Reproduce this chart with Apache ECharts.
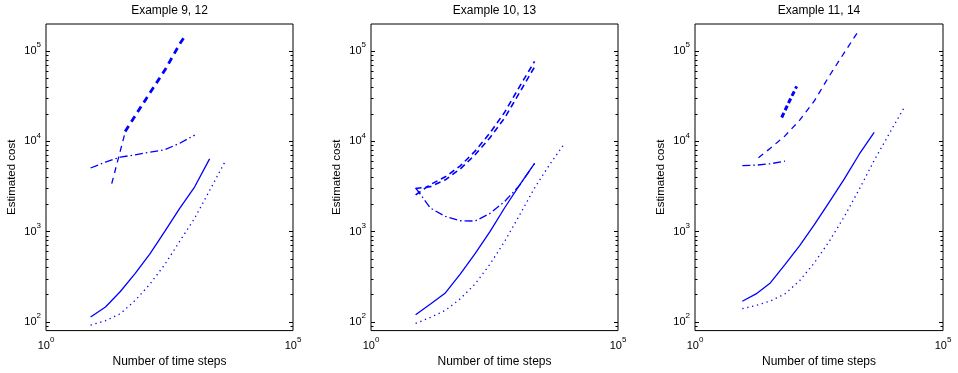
<!DOCTYPE html>
<html><head><meta charset="utf-8">
<script src="https://cdn.jsdelivr.net/npm/echarts@6/dist/echarts.min.js"></script>
<style>html,body{margin:0;padding:0;background:#fff}#c{width:958px;height:373px}</style>
</head><body><div id="c"></div>
<script>
// ---- text ----
const titles = ['Example 9, 12', 'Example 10, 13', 'Example 11, 14'];
const xLabel = 'Number of time steps';
const yLabel = 'Estimated cost';
// ---- ticks ----
const xTickValues = [1, 100000];
const yTickValues = [100, 1000, 10000, 100000];
const yMinorTickValues = [90, 200, 300, 400, 500, 600, 700, 800, 900,
  2000, 3000, 4000, 5000, 6000, 7000, 8000, 9000,
  20000, 30000, 40000, 50000, 60000, 70000, 80000, 90000];

// ---- panel 1 (Example 9, 12) ----
const p1X = [8, 16, 32, 64, 128, 256, 512, 1024, 2048, 4096];
const p1Solid = [113, 146, 217, 344, 569, 1012, 1820, 3140, 6400];
const p1Dotted = [92, 103, 123, 173, 263, 435, 785, 1412, 2850, 5800];
const p1DashDot = [5070, 5900, 6700, 7100, 7600, 8100, 9550, 11750];
const p1DashedLowX = [21.4, 40];
const p1DashedLowY = [3400, 12600];
const p1DashedX = [40, 127, 257, 516, 652];
const p1DashedY = [12900, 34500, 62100, 121600, 147600];

// ---- panel 2 (Example 10, 13) ----
const p2X = [8, 16, 32, 64, 128, 256, 512, 1024, 2048, 4096, 8192];
const p2Solid = [120, 158, 209, 338, 570, 998, 1850, 3300, 5700];
const p2Dotted = [96, 112, 134, 180, 263, 435, 785, 1535, 3050, 5500, 9400];
const p2DashedA = [3000, 3150, 3750, 4950, 7100, 11000, 18300, 35000, 67000];
const p2DashedB = [2550, 3330, 4050, 5350, 7800, 12400, 21200, 40800, 77000];
const p2DashDot = [3060, 1820, 1476, 1320, 1310, 1590, 2165, 3280, 5700];

// ---- panel 3 (Example 11, 14) ----
const p3X = [9, 17, 33, 65, 129, 257, 513, 1025, 2049, 4097, 8193, 16385];
const p3Solid = [169, 204, 270, 430, 700, 1200, 2140, 3840, 7210, 12600];
const p3Dotted = [140, 152, 170, 204, 286, 454, 785, 1470, 2950, 6150, 12100, 23600];
const p3DashDot = [5400, 5450, 5650, 6050];
const p3DashedX = [19, 33, 65, 129, 257, 513, 1025, 2049];
const p3Dashed = [6600, 8380, 11500, 17200, 28300, 53400, 96400, 173000];
const p3ThickX = [56, 79, 112];
const p3Thick = [18400, 27500, 40700];

function pairs(xs, ys) { return ys.map((y, i) => [xs[i], y]); }

const BLUE = '#0000ff';
const FONT = 'Liberation Sans, Arial, Helvetica, sans-serif';
const gridLeft = [46, 371, 695];
const gridWidth = [247, 247, 248];
const gridTop = 24, gridHeight = 309;

const supRich = {
  b: { fontSize: 11, lineHeight: 20, verticalAlign: 'middle', fontFamily: FONT, color: '#000' },
  s: { fontSize: 8, lineHeight: 8, verticalAlign: 'top', fontFamily: FONT, color: '#000' }
};
function powLabel(v) {
  const e = Math.round(Math.log10(v));
  return '{b|10}{s|' + e + '}';
}

const grids = [], xAxes = [], yAxes = [], titleArr = [], series = [];
for (let i = 0; i < 3; i++) {
  grids.push({ left: gridLeft[i], top: gridTop, width: gridWidth[i], height: gridHeight,
    show: true, borderColor: '#000', borderWidth: 1, backgroundColor: '#fff' });
  titleArr.push({ text: titles[i], left: gridLeft[i] + gridWidth[i] / 2, top: 5, padding: 0,
    textAlign: 'center',
    textStyle: { fontSize: 12, fontWeight: 'normal', color: '#000', fontFamily: FONT } });
  xAxes.push({ type: 'log', logBase: 10, gridIndex: i, min: 1, max: 100000,
    name: xLabel, nameLocation: 'middle', nameGap: 22,
    nameTextStyle: { fontSize: 12, color: '#000', fontFamily: FONT },
    axisLine: { show: false }, splitLine: { show: false },
    axisTick: { show: false },
    axisLabel: { customValues: xTickValues, formatter: powLabel, rich: supRich, margin: 5, showMinLabel: true, showMaxLabel: true } });
  const base = { type: 'log', logBase: 10, gridIndex: i, min: 80, max: 200000,
    axisLine: { show: false }, splitLine: { show: false }, minorTick: { show: false } };
  yAxes.push(Object.assign({}, base, { position: 'left',
    name: yLabel, nameLocation: 'middle', nameGap: 28, nameRotate: 90,
    nameTextStyle: { fontSize: 11.5, color: '#000', fontFamily: FONT },
    axisTick: { show: true, inside: true, length: 4, customValues: yTickValues, lineStyle: { color: '#000', width: 1 } },
    axisLabel: { customValues: yTickValues, formatter: powLabel, rich: supRich, margin: 5 } }));
  yAxes.push(Object.assign({}, base, { position: 'left',
    axisTick: { show: true, inside: true, length: 2.5, customValues: yMinorTickValues, lineStyle: { color: '#000', width: 1 } },
    axisLabel: { show: false } }));
  yAxes.push(Object.assign({}, base, { position: 'right',
    axisTick: { show: true, inside: true, length: 4, customValues: yTickValues, lineStyle: { color: '#000', width: 1 } },
    axisLabel: { show: false } }));
  yAxes.push(Object.assign({}, base, { position: 'right',
    axisTick: { show: true, inside: true, length: 2.5, customValues: yMinorTickValues, lineStyle: { color: '#000', width: 1 } },
    axisLabel: { show: false } }));
}

function line(panel, data, width, type) {
  series.push({ type: 'line', xAxisIndex: panel, yAxisIndex: panel * 4, data: data,
    showSymbol: false, symbol: 'none', smooth: false, silent: true, animation: false,
    lineStyle: { color: BLUE, width: width, type: type, cap: 'butt' } });
}
const DOT = [1.3, 3.7], DASH = [6, 5], DASHDOT = [8, 3, 1.5, 3];
// panel 1
line(0, pairs(p1X, p1Solid), 1.3, 'solid');
line(0, pairs(p1X, p1Dotted), 1.3, DOT);
line(0, pairs(p1X, p1DashDot), 1.3, DASHDOT);
line(0, pairs(p1DashedLowX, p1DashedLowY), 1.3, DASH);
line(0, pairs(p1DashedX, p1DashedY), 2.8, [6.5, 5]);
// panel 2
line(1, pairs(p2X, p2Solid), 1.3, 'solid');
line(1, pairs(p2X, p2Dotted), 1.3, DOT);
line(1, pairs(p2X, p2DashedA), 1.6, [6, 4]);
line(1, pairs(p2X, p2DashedB), 1.6, [6, 4]);
line(1, pairs(p2X, p2DashDot), 1.3, DASHDOT);
// panel 3
line(2, pairs(p3X, p3Solid), 1.3, 'solid');
line(2, pairs(p3X, p3Dotted), 1.3, DOT);
line(2, pairs(p3X, p3DashDot), 1.3, DASHDOT);
line(2, pairs(p3DashedX, p3Dashed), 1.3, [6, 5]);
line(2, pairs(p3ThickX, p3Thick), 3, [5, 3]);

const chart = echarts.init(document.getElementById('c'), null, { renderer: 'canvas' });
chart.setOption({ animation: false, backgroundColor: '#fff', title: titleArr,
  grid: grids, xAxis: xAxes, yAxis: yAxes, series: series });
</script></body></html>
